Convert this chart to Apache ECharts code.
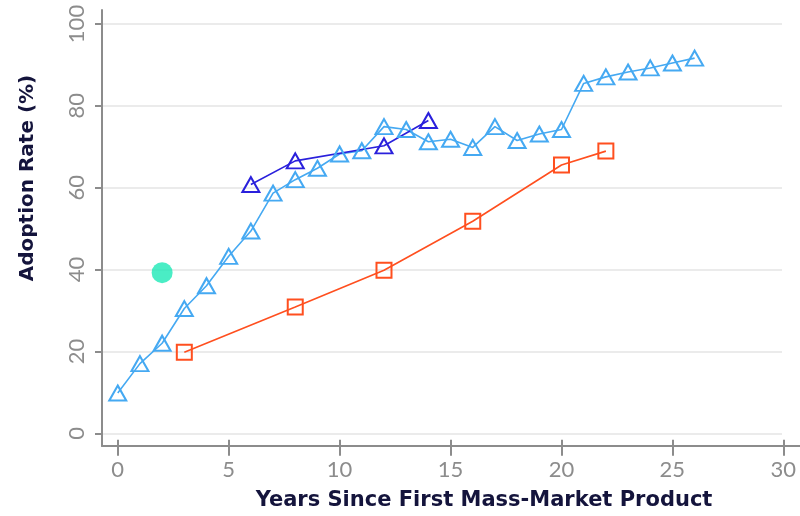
<!DOCTYPE html>
<html><head><meta charset="utf-8">
<script src="https://cdn.jsdelivr.net/npm/echarts@6/dist/echarts.min.js"></script>
<style>html,body{margin:0;padding:0;background:#fff}#c{width:800px;height:516px}</style>
</head><body><div id="c"></div>
<script>
// Data
const seriesA_x = [0,1,2,3,4,5,6,7,8,9,10,11,12,13,14,15,16,17,18,19,20,21,22,23,24,25,26];
const seriesA_y = [9.5,16.7,21.7,30.2,35.8,43,49.2,58.5,61.8,64.6,68.1,68.9,74.8,74.1,71.1,71.7,69.7,74.8,71.4,73,74.1,85.4,87.0,88.2,89.2,90.4,91.6];
const seriesB_x = [6,8,12,14];
const seriesB_y = [60.6,66.4,70.1,76.3];
const seriesC_x = [3,8,12,16,20,22];
const seriesC_y = [19.5,30.6,39.6,51.6,65.4,68.8];
const pointD = [[2,39]];
const xTicks = [0,5,10,15,20,25,30];
const yTicks = [0,20,40,60,80,100];

const pairs = (xs, ys) => xs.map((x,i)=>[x, ys[i]]);
const axisGrey = '#8c8c8c';

const chart = echarts.init(document.getElementById('c'));
chart.setOption({
  animation:false,
  backgroundColor:'#fff',
  grid:[
    {left:102, right:0, top:10, bottom:68.3, containLabel:false},
    {left:102, right:18, top:24, bottom:82.7, containLabel:false},
    {left:117.7, right:16.7, top:10, bottom:68.3, containLabel:false}
  ],
  xAxis:[
    {gridIndex:0, type:'value', min:-0.71, max:30.75,
     axisLine:{show:true, onZero:false, lineStyle:{color:axisGrey, width:2}},
     axisTick:{show:false}, axisLabel:{show:false}, splitLine:{show:false},
     name:'Years Since First Mass-Market Product', nameLocation:'middle', nameGap:44,
     nameTextStyle:{fontFamily:'DejaVu Sans', fontWeight:'bold', fontSize:21, color:'#14143c', padding:[0,0,0,66]}},
    {gridIndex:1, type:'value', min:0, max:1, show:false},
    {gridIndex:2, type:'value', min:xTicks[0], max:xTicks[xTicks.length-1], interval:5,
     axisLine:{show:false, onZero:false}, splitLine:{show:false},
     axisTick:{show:true, length:8, lineStyle:{color:axisGrey, width:2}},
     axisLabel:{show:true, margin:11, fontFamily:'Lato', fontSize:22, color:axisGrey}},
    {gridIndex:2, type:'value', min:xTicks[0], max:xTicks[xTicks.length-1], interval:5, position:'bottom',
     axisLine:{show:false, onZero:false}, splitLine:{show:false}, axisLabel:{show:false},
     axisTick:{show:true, inside:true, length:8, lineStyle:{color:axisGrey, width:2}}}
  ],
  yAxis:[
    {gridIndex:0, type:'value', min:-3.5, max:103.4,
     axisLine:{show:true, onZero:false, lineStyle:{color:axisGrey, width:2}},
     axisTick:{show:false}, axisLabel:{show:false}, splitLine:{show:false},
     name:'Adoption Rate (%)', nameLocation:'middle', nameGap:64,
     nameTextStyle:{fontFamily:'DejaVu Sans', fontWeight:'bold', fontSize:20, color:'#14143c', padding:[0,0,0,100]}},
    {gridIndex:1, type:'value', min:yTicks[0], max:yTicks[yTicks.length-1], interval:20,
     axisLine:{show:false, onZero:false},
     axisTick:{show:true, length:7, lineStyle:{color:axisGrey, width:2}},
     axisLabel:{show:true, rotate:90, margin:14, fontFamily:'Lato', fontSize:22, color:axisGrey},
     splitLine:{show:true, lineStyle:{color:'#ebebeb', width:2}}},
    {gridIndex:2, type:'value', min:0, max:1, show:false}
  ],
  series:[
    {type:'line', xAxisIndex:0, yAxisIndex:0, data:pairs(seriesA_x, seriesA_y),
     symbol:'triangle', symbolSize:[17,15], showAllSymbol:true,
     lineStyle:{color:'#45a9f2', width:1.6},
     itemStyle:{color:'rgba(0,0,0,0)', borderColor:'#45a9f2', borderWidth:2}},
    {type:'line', xAxisIndex:0, yAxisIndex:0, data:pairs(seriesB_x, seriesB_y),
     symbol:'triangle', symbolSize:[17,15],
     lineStyle:{color:'#2a20dc', width:1.6},
     itemStyle:{color:'rgba(0,0,0,0)', borderColor:'#2a20dc', borderWidth:2}},
    {type:'line', xAxisIndex:0, yAxisIndex:0, data:pairs(seriesC_x, seriesC_y),
     symbol:'rect', symbolSize:15,
     lineStyle:{color:'#ff4f1f', width:1.6},
     itemStyle:{color:'rgba(0,0,0,0)', borderColor:'#ff4f1f', borderWidth:2}},
    {type:'scatter', xAxisIndex:0, yAxisIndex:0, data:pointD,
     symbol:'circle', symbolSize:21, itemStyle:{color:'#1de9b6'}}
  ]
});
</script></body></html>
